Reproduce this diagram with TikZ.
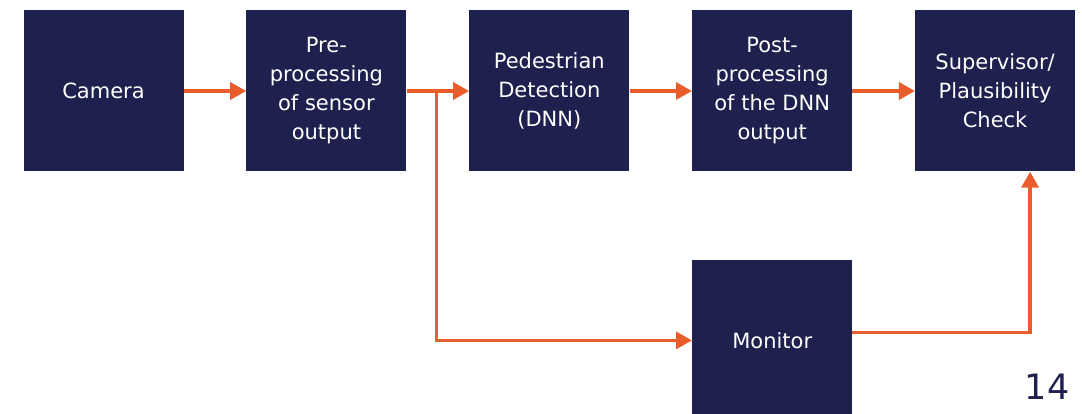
\documentclass[tikz,border=0pt]{standalone}
\usepackage{fontspec}
\setmainfont{DejaVu Sans}
\usetikzlibrary{positioning,arrows.meta}
\definecolor{boxnavy}{RGB}{30,33,77}
\definecolor{arroworange}{RGB}{233,93,45}

\begin{document}
\begin{tikzpicture}[x=1pt,y=-1pt,
    block/.style={rectangle,fill=boxnavy,text=white,minimum width=160pt,minimum height=161pt,
        inner sep=0pt,align=center,font=\fontsize{21}{29}\selectfont},
    flow/.style={draw=arroworange,line width=3.5pt,-{Triangle[length=16pt,width=17pt]}},
    node distance=62.5pt]
    \useasboundingbox (0,0) rectangle (1082,414);

    % top row
    \node[block] (camera) at (103.5,91) {Camera};
    \node[block,right=of camera] (pre) {Pre-\\processing\\of sensor\\output};
    \node[block,right=of pre] (pedestrian) {Pedestrian\\Detection\\(DNN)};
    \node[block,right=of pedestrian] (post) {Post-\\processing\\of the DNN\\output};
    \node[block,right=of post] (supervisor) {Supervisor/\\Plausibility\\Check};

    % monitor branch
    \node[block,below=88pt of post] (monitor) {Monitor};
    \coordinate[right=30pt of pre.east] (split);

    \draw[flow] (camera) -- (pre);
    \draw[flow] (pre) -- (pedestrian);
    \draw[flow] (pedestrian) -- (post);
    \draw[flow] (post) -- (supervisor);
    \draw[flow] (split) |- (monitor.west);
    \draw[flow] ([yshift=8pt]monitor.east) -| ([xshift=35pt]supervisor.south);

    \node[text=boxnavy,font=\fontsize{35}{40}\selectfont] (page) at (1047,387) {14};
\end{tikzpicture}
\end{document}
